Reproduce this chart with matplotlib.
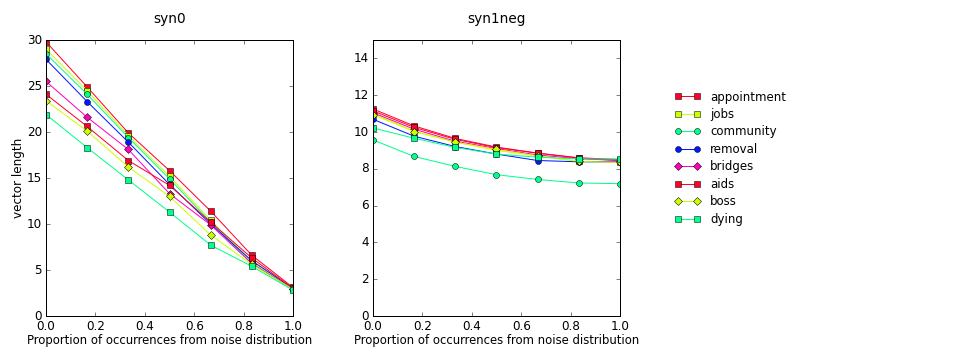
import numpy as np
import matplotlib
matplotlib.use("Agg")
import matplotlib.pyplot as plt

plt.style.use('classic')

x = [0.0, 1/6, 2/6, 3/6, 4/6, 5/6, 1.0]

words = ["appointment", "jobs", "community", "removal", "bridges", "aids", "boss", "dying"]
markers = ["s", "s", "o", "o", "D", "s", "D", "s"]

syn0 = {
    "appointment": [29.8, 24.9, 19.9, 15.8, 11.4, 6.6, 3.1],
    "jobs":        [29.0, 24.5, 19.6, 15.2, 10.4, 5.9, 3.0],
    "community":   [28.5, 24.1, 19.4, 14.9, 10.2, 5.7, 2.9],
    "removal":     [27.9, 23.3, 18.9, 14.3, 10.0, 6.0, 3.0],
    "bridges":     [25.5, 21.6, 18.1, 13.3, 9.9, 5.7, 2.9],
    "aids":        [24.1, 20.6, 16.9, 14.2, 10.2, 6.3, 3.0],
    "boss":        [23.4, 20.1, 16.2, 13.0, 8.8, 5.6, 2.9],
    "dying":       [21.9, 18.3, 14.8, 11.3, 7.7, 5.4, 2.8],
}

syn1neg = {
    "appointment": [11.25, 10.33, 9.65, 9.18, 8.85, 8.58, 8.45],
    "jobs":        [11.00, 10.05, 9.45, 9.00, 8.70, 8.40, 8.35],
    "community":   [9.57, 8.67, 8.13, 7.68, 7.42, 7.23, 7.19],
    "removal":     [10.69, 9.77, 9.21, 8.80, 8.45, 8.38, 8.38],
    "bridges":     [11.05, 10.15, 9.50, 9.10, 8.75, 8.55, 8.45],
    "aids":        [11.15, 10.25, 9.60, 9.15, 8.85, 8.60, 8.50],
    "boss":        [10.95, 10.02, 9.45, 9.05, 8.70, 8.40, 8.35],
    "dying":       [10.22, 9.66, 9.16, 8.80, 8.63, 8.54, 8.53],
}

cols = plt.cm.gist_rainbow(np.linspace(0, 1, 5))

fig = plt.figure(figsize=(960/72, 360/72), dpi=72, facecolor='white')
ax1 = fig.add_axes([46/960, 1-316/360, 247/960, 276/360])
ax2 = fig.add_axes([373/960, 1-316/360, 247/960, 276/360])

for i, w in enumerate(words):
    c = cols[i % 5]
    ax1.plot(x, syn0[w], marker=markers[i], color=c, label=w, markersize=6)
    ax2.plot(x, syn1neg[w], marker=markers[i], color=c, label=w, markersize=6)

xl = "Proportion of occurrences from noise distribution"

ax1.set_title("syn0", y=1.045, fontsize=13.6)
ax1.set_ylabel("vector length", labelpad=2)
ax1.set_xlabel(xl, fontsize=11.6, labelpad=1)
ax1.set_ylim(0, 30)
ax1.set_xlim(0, 1)

ax2.set_title("syn1neg", y=1.045, fontsize=13.6)
ax2.set_xlabel(xl, fontsize=11.6, labelpad=1)
ax2.set_ylim(0, 15)
ax2.set_xlim(0, 1)
ax2.set_yticks(range(0, 15, 2))

ax2.legend(loc='upper left', bbox_to_anchor=(1.18, 0.855), frameon=False,
           numpoints=2, fontsize=11.7, labelspacing=0.38, handlelength=2.2)

fig.savefig("out.png", dpi=72, facecolor='white')
